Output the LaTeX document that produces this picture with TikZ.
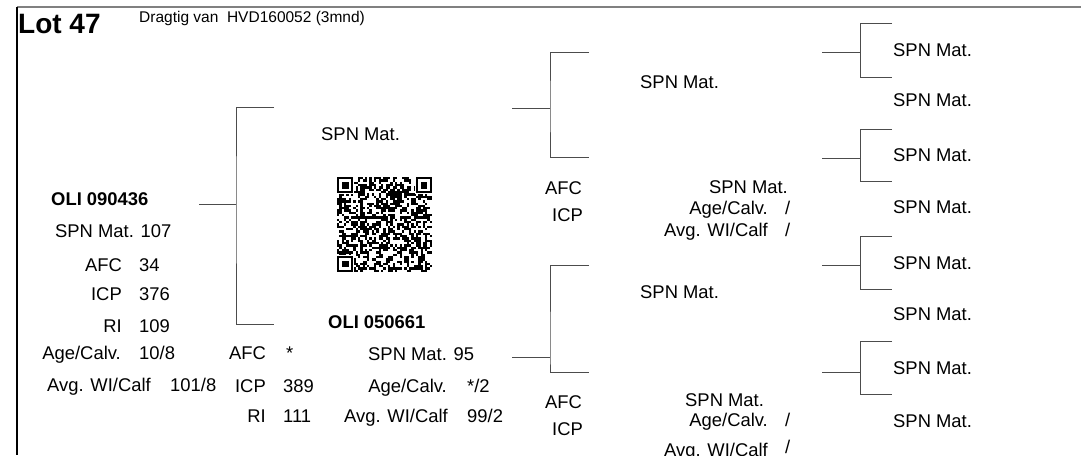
\documentclass[tikz,border=0pt]{standalone}
\usepackage{fontspec}
\setmainfont{Liberation Sans}
\usepackage{tikz}
\newcommand{\txt}{\fontsize{18.4}{22}\selectfont}
\newcommand{\hdr}{\fontsize{15.5}{18}\selectfont}
\newcommand{\lot}{\fontsize{28}{32}\selectfont\bfseries}
\tikzset{
  lft/.style={anchor=base west},
  rgt/.style={anchor=base east},
  bld/.style={anchor=base west,font=\txt\bfseries},
  brk/.style={draw=black!70,line width=1pt},
}

\begin{document}
\begin{tikzpicture}[x=1pt,y=-1pt,every node/.style={inner sep=0pt,font=\txt}]
\useasboundingbox[fill=white] (0,0) rectangle (1081,455);
%frame
\coordinate (tl) at (17,7);
\coordinate (tr) at (1081,7);
\coordinate (bl) at (17,455);
\draw[black!50,line width=2.5pt] (tl) -- (tr);
\draw[black,line width=1.2pt] (tl) -- (bl);
%heading
\node[lft,font=\lot] (lot) at (18,33) {Lot 47};
\node[lft,font=\hdr] (drag) at (139,22) {Dragtig van\ \ HVD160052 (3mnd)};

%put nodes
%animal
\node[bld] (oli) at (51,205) {OLI 090436};
\node[lft] (spn) at (55,237) {SPN Mat. 107};
\node[rgt] (afc) at (122,271.5) {AFC};
\node[lft] (afcv) at (139,271.5) {34};
\node[rgt] (icp) at (122,300.5) {ICP};
\node[lft] (icpv) at (139,300.5) {376};
\node[rgt] (ri) at (122,332.5) {RI};
\node[lft] (riv) at (139,332.5) {109};
\node[rgt] (age) at (121,359) {Age/Calv.};
\node[lft] (agev) at (139,359) {10/8};
\node[rgt] (wi) at (151,391) {Avg. WI/Calf};
\node[lft] (wiv) at (170,391) {101/8};
%second column
\node[rgt] (afc2) at (266,359) {AFC};
\node[lft] (afc2v) at (286,359) {*};
\node[rgt] (icp2) at (266,392) {ICP};
\node[lft] (icp2v) at (283,392) {389};
\node[rgt] (ri2) at (266,422) {RI};
\node[lft] (ri2v) at (283,422) {111};
%sire
\node[lft] (sire) at (321,140.5) {SPN Mat.};
%dam
\node[bld] (dam) at (328,328) {OLI 050661};
\node[lft] (damspn) at (368,360) {SPN Mat. 95};
\node[rgt] (damage) at (447,392) {Age/Calv.};
\node[lft] (damagev) at (467,392) {*/2};
\node[rgt] (damwi) at (448,422) {Avg. WI/Calf};
\node[lft] (damwiv) at (467,422) {99/2};
%grandparents
\node[lft] (gs1) at (640,88.5) {SPN Mat.};
\node[lft] (gafc1) at (545,194) {AFC};
\node[rgt] (gicp1) at (583,221) {ICP};
\node[rgt] (gd1) at (788,193) {SPN Mat.};
\node[rgt] (gd1age) at (768,214) {Age/Calv.};
\node[lft] (gd1agev) at (785,214) {/};
\node[rgt] (gd1wi) at (768,236) {Avg. WI/Calf};
\node[lft] (gd1wiv) at (785,236) {/};
\node[lft] (gs2) at (640,298) {SPN Mat.};
\node[lft] (gafc2) at (545,408) {AFC};
\node[rgt] (gicp2) at (583,435) {ICP};
\node[lft] (gd2) at (685,406.5) {SPN Mat.};
\node[rgt] (gd2age) at (768,426.5) {Age/Calv.};
\node[lft] (gd2agev) at (785,426.5) {/};
\node[rgt] (gd2wi) at (768,456) {Avg. WI/Calf};
\node[lft] (gd2wiv) at (785,453) {/};
%great grandparents
\foreach \k/\yy in {1/56.5,2/106.5,3/161.5,4/213.5,5/269.5,6/320.5,7/374.5,8/427.5}
  \node[lft] (gg\k) at (893,\yy) {SPN Mat.};

%plot the brackets
%animal
\coordinate (s1) at (199,204);
\coordinate (f1) at (236,204);
\coordinate (t1) at (274,107);
\coordinate (b1) at (274,324);
\draw[brk] (s1) -- (f1);
\draw[brk] (t1) -| (f1) |- (b1);
%sire
\coordinate (s2) at (512,108);
\coordinate (f2) at (550,108);
\coordinate (t2) at (589,52);
\coordinate (b2) at (589,157);
\draw[brk] (s2) -- (f2);
\draw[brk] (t2) -| (f2) |- (b2);
%dam
\coordinate (s3) at (512,357);
\coordinate (f3) at (550,357);
\coordinate (t3) at (589,265);
\coordinate (b3) at (589,372);
\draw[brk] (s3) -- (f3);
\draw[brk] (t3) -| (f3) |- (b3);
%grandparents
\foreach \n/\ys/\yt/\yb in {4/52/23/77,5/158/129/181,6/265/236/289,7/372/341/394}{
  \coordinate (s\n) at (822,\ys);
  \coordinate (f\n) at (860,\ys);
  \coordinate (t\n) at (892,\yt);
  \coordinate (b\n) at (892,\yb);
  \draw[brk] (s\n) -- (f\n);
  \draw[brk] (t\n) -| (f\n) |- (b\n);
}

%qr code
\pgfmathsetseed{4711}
\begin{scope}[shift={(337,177)},x=2.32pt,y=-2.32pt]
\foreach \i in {0,...,40}
  \foreach \j in {0,...,40}{
    \pgfmathrandominteger{\qrbit}{0}{1}
    \ifnum\qrbit=1 \fill (\i,\j) rectangle ++(1,1); \fi
  }
\foreach \cx/\cy in {0/0,34/0,0/34}{
  \fill[white] (\cx-0.5,\cy-0.5) rectangle ++(8,8);
  \fill (\cx,\cy) rectangle ++(7,7);
  \fill[white] (\cx+1,\cy+1) rectangle ++(5,5);
  \fill (\cx+2,\cy+2) rectangle ++(3,3);
}
\end{scope}
\end{tikzpicture}
\end{document}
